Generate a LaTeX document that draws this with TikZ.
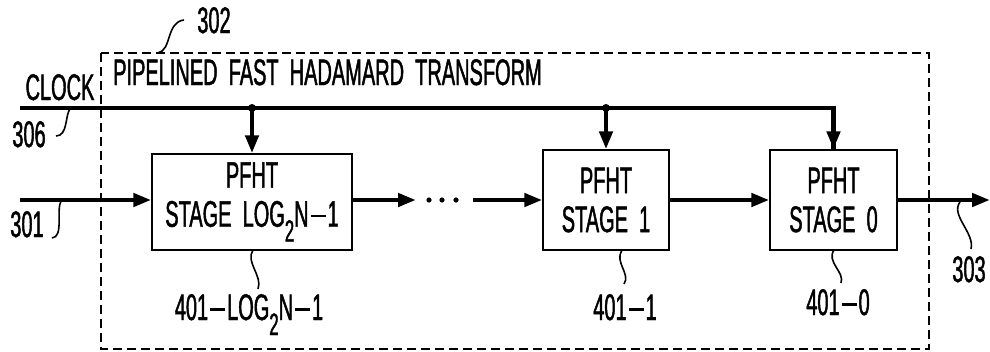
\documentclass[tikz,border=0pt]{standalone}
\usepackage{fontspec}
\setmainfont{Liberation Sans}[FakeStretch=0.54,FakeBold=1.2,WordSpace=2]
\usetikzlibrary{arrows.meta}
\newcommand\subtwo{\raisebox{-15pt}{\fontsize{31}{31}\selectfont 2}}
\newcommand\dsh{\kern2pt\rule[9.5pt]{15pt}{2.6pt}\kern2pt}
\begin{document}
\begin{tikzpicture}[x=1pt,y=-1pt,
  lbl/.style={inner sep=0pt,font=\fontsize{37}{39}\selectfont},
  stagebox/.style={draw,line width=1.4pt,inner sep=0pt,align=center,font=\fontsize{37}{39}\selectfont},
  bus/.style={line width=4.5pt},
  sig/.style={line width=4.5pt,-{Triangle[length=18pt,width=13pt]}},
  leader/.style={line width=1.6pt},
  frame/.style={draw,line width=1.6pt,dash pattern=on 9pt off 5pt}]
\useasboundingbox (0,0) rectangle (990,351);
\draw[frame] (101,53) rectangle (929,349);
\node[lbl,anchor=base west] (title) at (113,85) {PIPELINED FAST HADAMARD TRANSFORM};
\node[lbl,anchor=base] (t302) at (214,33) {302};
\node[lbl,anchor=base] (tclock) at (60,100) {CLOCK};
\node[lbl,anchor=base] (t306) at (29,147) {306};
\node[lbl,anchor=base] (t301) at (27,237) {301};
\node[lbl,anchor=base] (t303) at (969,282) {303};
\node[lbl,anchor=base] (t401a) at (249,320) {401\dsh LOG\subtwo N\dsh 1};
\node[lbl,anchor=base] (t401b) at (625,320) {401\dsh 1};
\node[lbl,anchor=base] (t401c) at (838,315) {401\dsh 0};

\node[stagebox,minimum width=200pt,minimum height=96pt] (b1) at (252,202) {PFHT\\STAGE LOG\subtwo N\dsh 1};
\node[stagebox,minimum width=126pt,minimum height=100pt] (b2) at (606,200) {PFHT\\STAGE 1};
\node[stagebox,minimum width=127pt,minimum height=100pt] (b3) at (833.5,200) {PFHT\\STAGE 0};

\coordinate (clk) at (20,108);
\coordinate (j1) at (252,108);
\coordinate (j2) at (606,108);
\coordinate (c3) at (833.5,108);
\coordinate (in) at (20,200);
\coordinate (out) at (990,200);
\coordinate (d1) at (416,200);
\coordinate (d2) at (473,200);

\draw[bus,line join=miter] (clk) -- (c3) -- (b3.north);
\draw[sig] (c3) -- (b3.north);
\draw[sig] (j1) -- (b1.north);
\draw[sig] (j2) -- (b2.north);
\fill (j1) circle (4pt);
\fill (j2) circle (4pt);

\draw[sig] (in) -- (in -| b1.west);
\draw[sig] (b1.east |- d1) -- (d1);
\fill (429,200) circle (2.6pt) (442,200) circle (2.6pt) (456,200) circle (2.6pt);
\draw[sig] (d2) -- (b2.west);
\draw[sig] (b2.east) -- (b3.west);
\draw[sig] (b3.east) -- (out);

\draw[leader] (158,53) .. controls (172,50) and (166,22) .. (184,20);
\draw[leader] (56,136) .. controls (68,136) and (65,115) .. (70,109);
\draw[leader] (52,238) .. controls (64,237) and (56,210) .. (61,201);
\draw[leader] (253,250) .. controls (245,262) and (263,276) .. (258,289);
\draw[leader] (622,250) .. controls (614,262) and (631,274) .. (624,284);
\draw[leader] (834,250) .. controls (826,262) and (845,272) .. (841,283);
\draw[leader] (960,202) .. controls (950,215) and (975,233) .. (971,249);
\end{tikzpicture}
\end{document}
